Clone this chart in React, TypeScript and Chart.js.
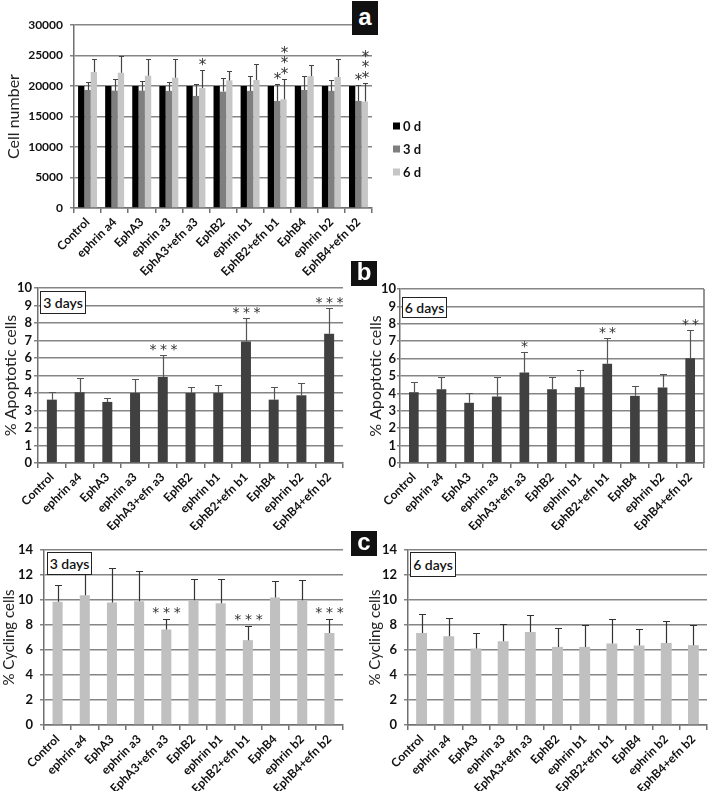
import React, { useEffect, useRef } from "react";
import { Chart, registerables } from "chart.js";
Chart.register(...registerables);

const FONT = "Lato, 'Open Sans', 'DejaVu Sans', sans-serif";
const STAR_FONT = "'DejaVu Sans', sans-serif";
const GRID = "#858585";
const AXIS = "#707070";

const categories = [
  "Control", "ephrin a4", "EphA3", "ephrin a3", "EphA3+efn a3", "EphB2",
  "ephrin b1", "EphB2+efn b1", "EphB4", "ephrin b2", "EphB4+efn b2",
];

// Panel a: cell number
const legendLabelsA = ["0 d", "3 d", "6 d"];
const cells0d = [20000, 20000, 20000, 20000, 20000, 20000, 20000, 20000, 20000, 20000, 20000];
const cells3d = [19350, 19240, 19240, 19200, 18370, 19080, 19200, 17550, 19350, 19200, 17550];
const cells3dErrTop = [20600, 21090, 20810, 20700, 20270, 21360, 21690, 20380, 21690, 21030, 20220];
const cells3dStars = ["", "", "", "", "", "", "", "*", "", "", "*"];
const cells6d = [22280, 22170, 21690, 21360, 19670, 20920, 20980, 17830, 21580, 21470, 17450];
const cells6dErrTop = [24350, 24950, 24470, 24470, 22550, 22390, 23530, 21200, 23420, 24470, 20490];
const cells6dStars = ["", "", "", "", "*", "", "", "***", "", "", "***"];

// Panel b: % apoptotic cells
const apoptotic3d = [3.62, 4.04, 3.49, 4.0, 4.91, 4.0, 4.0, 6.95, 3.62, 3.87, 7.39];
const apoptotic3dErrTop = [4.04, 4.86, 3.71, 4.8, 6.15, 4.34, 4.48, 8.29, 4.34, 4.57, 8.86];
const apoptotic3dStars = ["", "", "", "", "***", "", "", "***", "", "", "***"];
const apoptotic6d = [4.07, 4.24, 3.46, 3.82, 5.2, 4.24, 4.36, 5.7, 3.86, 4.34, 6.02];
const apoptotic6dErrTop = [4.65, 4.93, 4.05, 4.97, 6.37, 4.93, 5.32, 7.17, 4.44, 5.1, 7.65];
const apoptotic6dStars = ["", "", "", "", "*", "", "", "**", "", "", "**"];

// Panel c: % cycling cells
const cycling3d = [9.86, 10.39, 9.8, 9.91, 7.64, 9.99, 9.75, 6.79, 10.2, 9.99, 7.37];
const cycling3dErrTop = [11.19, 12.3, 12.53, 12.34, 8.5, 11.7, 11.7, 7.93, 11.54, 11.57, 8.47];
const cycling3dStars = ["", "", "", "", "***", "", "", "***", "", "", "***"];
const cycling6d = [7.37, 7.1, 6.12, 6.7, 7.45, 6.25, 6.25, 6.52, 6.36, 6.57, 6.39];
const cycling6dErrTop = [8.87, 8.58, 7.37, 8.12, 8.79, 7.8, 7.96, 8.5, 7.69, 8.34, 7.96];

type Series = { label: string; data: number[]; color: string; errTop?: number[]; stars?: string[] };
type Spec = {
  left: number; top: number; w: number; h: number;
  area: { left: number; top: number; right: number; bottom: number };
  series: Series[];
  yMax: number; yStep: number;
  yTitle: string; yTitleSize: number; yTitlePad: number;
  yTickSize: number; yTickLen: number; yTickPad: number;
  catPct: number; barPct: number;
  errColor: string; capHalf: number;
  starMode: "h" | "v"; starSize: number; starGap: number; starSpacing: number;
  rightBorder?: boolean;
  legend?: { x: number; ys: number[] };
};

function overlayPlugin(spec: Spec) {
  return {
    id: "overlay",
    afterDatasetsDraw(chart: any) {
      const ctx = chart.ctx as CanvasRenderingContext2D;
      const ys = chart.scales.y;
      ctx.save();
      spec.series.forEach((s, i) => {
        if (!s.errTop) return;
        const meta = chart.getDatasetMeta(i);
        meta.data.forEach((el: any, j: number) => {
          const x = Math.round(el.x) + 0.5;
          const y0 = el.y;
          const y1 = Math.round(ys.getPixelForValue(s.errTop![j])) + 0.5;
          ctx.strokeStyle = spec.errColor;
          ctx.lineWidth = 1.2;
          ctx.beginPath();
          ctx.moveTo(x, y0);
          ctx.lineTo(x, y1);
          ctx.moveTo(x - spec.capHalf, y1);
          ctx.lineTo(x + spec.capHalf, y1);
          ctx.stroke();
          const st = s.stars ? s.stars[j] : "";
          if (st) {
            ctx.font = `${spec.starSize}px ${STAR_FONT}`;
            ctx.fillStyle = "#333";
            ctx.textAlign = "center";
            ctx.textBaseline = "alphabetic";
            const m = ctx.measureText("*");
            const off = (m.actualBoundingBoxAscent - m.actualBoundingBoxDescent) / 2;
            const n = st.length;
            for (let k = 0; k < n; k++) {
              let cx = x, cy = y1 - spec.starGap;
              if (spec.starMode === "h") cx = x + (k - (n - 1) / 2) * spec.starSpacing;
              else cy = y1 - spec.starGap - k * spec.starSpacing;
              ctx.fillText("*", cx, cy + off);
            }
          }
        });
      });
      if (spec.rightBorder) {
        const a = chart.chartArea;
        ctx.strokeStyle = AXIS;
        ctx.lineWidth = 1.5;
        ctx.beginPath();
        ctx.moveTo(a.right, a.top);
        ctx.lineTo(a.right, a.bottom);
        ctx.stroke();
      }
      if (spec.legend) {
        ctx.font = `bold 13px ${FONT}`;
        ctx.textAlign = "left";
        ctx.textBaseline = "middle";
        spec.series.forEach((s, i) => {
          const yy = spec.legend!.ys[i];
          ctx.fillStyle = s.color;
          ctx.fillRect(spec.legend!.x, yy - 3.5, 7, 7);
          ctx.fillStyle = "#111";
          ctx.fillText(s.label, spec.legend!.x + 10, yy + 0.5);
        });
      }
      ctx.restore();
    },
  };
}

function buildConfig(spec: Spec): any {
  return {
    type: "bar",
    data: {
      labels: categories,
      datasets: spec.series.map((s) => ({
        label: s.label,
        data: s.data,
        backgroundColor: s.color,
        borderWidth: 0,
        categoryPercentage: spec.catPct,
        barPercentage: spec.barPct,
      })),
    },
    options: {
      responsive: false,
      animation: false,
      devicePixelRatio: 1,
      layout: { padding: { top: spec.area.top, right: spec.w - spec.area.right, left: 0, bottom: 0 } },
      plugins: { legend: { display: false }, tooltip: { enabled: false } },
      scales: {
        x: {
          offset: true,
          grid: { display: true, drawOnChartArea: false, drawTicks: true, tickLength: 5, color: AXIS, lineWidth: 1.5, offset: true },
          border: { display: true, color: AXIS, width: 1.5 },
          ticks: { autoSkip: false, maxRotation: 45, minRotation: 45, color: "#111", padding: 2, font: { family: FONT, size: 12, weight: "bold" } },
          afterFit: (s: any) => { s.height = spec.h - spec.area.bottom; },
        },
        y: {
          min: 0,
          max: spec.yMax,
          ticks: {
            stepSize: spec.yStep,
            autoSkip: false,
            color: "#111",
            padding: spec.yTickPad,
            font: { family: FONT, size: spec.yTickSize, weight: "bold" },
            callback: (v: any) => String(v),
          },
          grid: { color: GRID, lineWidth: 1.5, tickLength: spec.yTickLen },
          border: { display: true, color: AXIS, width: 1.5 },
          title: {
            display: true,
            text: spec.yTitle,
            color: "#222",
            font: { family: FONT, size: spec.yTitleSize },
            padding: { top: spec.yTitlePad, bottom: 0 },
          },
          afterFit: (s: any) => { s.width = spec.area.left; },
        },
      },
    },
    plugins: [overlayPlugin(spec)],
  };
}

const specA: Spec = {
  left: 0, top: 0, w: 480, h: 282,
  area: { left: 74, top: 25, right: 372, bottom: 208 },
  series: [
    { label: legendLabelsA[0], data: cells0d, color: "#000000" },
    { label: legendLabelsA[1], data: cells3d, color: "#7f7f7f", errTop: cells3dErrTop, stars: cells3dStars },
    { label: legendLabelsA[2], data: cells6d, color: "#c6c6c6", errTop: cells6dErrTop, stars: cells6dStars },
  ],
  yMax: 30000, yStep: 5000,
  yTitle: "Cell number", yTitleSize: 16, yTitlePad: 4,
  yTickSize: 12, yTickLen: 4, yTickPad: 7,
  catPct: 0.7, barPct: 1,
  errColor: "#444", capHalf: 2.5,
  starMode: "v", starSize: 15, starGap: 9, starSpacing: 10.2,
  legend: { x: 393, ys: [126, 149, 172] },
};

const specB3: Spec = {
  left: 0, top: 275, w: 352, h: 255,
  area: { left: 38, top: 13, right: 343, bottom: 188 },
  series: [{ label: "3 days", data: apoptotic3d, color: "#404040", errTop: apoptotic3dErrTop, stars: apoptotic3dStars }],
  yMax: 10, yStep: 1,
  yTitle: "% Apoptotic cells", yTitleSize: 16, yTitlePad: 1,
  yTickSize: 13, yTickLen: 4, yTickPad: 2,
  catPct: 1, barPct: 0.36,
  errColor: "#555", capHalf: 3.5,
  starMode: "h", starSize: 14, starGap: 8, starSpacing: 10.5,
};

const specB6: Spec = {
  left: 362, top: 275, w: 347, h: 255,
  area: { left: 38, top: 14, right: 342, bottom: 188 },
  series: [{ label: "6 days", data: apoptotic6d, color: "#404040", errTop: apoptotic6dErrTop, stars: apoptotic6dStars }],
  yMax: 10, yStep: 1,
  yTitle: "% Apoptotic cells", yTitleSize: 16, yTitlePad: 4,
  yTickSize: 13, yTickLen: 3, yTickPad: 1,
  catPct: 1, barPct: 0.35,
  errColor: "#555", capHalf: 3.5,
  starMode: "h", starSize: 14, starGap: 8, starSpacing: 10,
  rightBorder: true,
};

const specC3: Spec = {
  left: 0, top: 530, w: 352, h: 261,
  area: { left: 44, top: 20, right: 343, bottom: 195 },
  series: [{ label: "3 days", data: cycling3d, color: "#c0c0c0", errTop: cycling3dErrTop, stars: cycling3dStars }],
  yMax: 14, yStep: 2,
  yTitle: "% Cycling cells", yTitleSize: 15, yTitlePad: 0,
  yTickSize: 13, yTickLen: 4, yTickPad: 7,
  catPct: 1, barPct: 0.37,
  errColor: "#333", capHalf: 3.5,
  starMode: "h", starSize: 14, starGap: 9, starSpacing: 10.8,
};

const specC6: Spec = {
  left: 362, top: 530, w: 347, h: 261,
  area: { left: 46, top: 20, right: 345, bottom: 195 },
  series: [{ label: "6 days", data: cycling6d, color: "#c0c0c0", errTop: cycling6dErrTop }],
  yMax: 14, yStep: 2,
  yTitle: "% Cycling cells", yTitleSize: 15, yTitlePad: 4,
  yTickSize: 13, yTickLen: 4, yTickPad: 7,
  catPct: 1, barPct: 0.4,
  errColor: "#333", capHalf: 3.5,
  starMode: "h", starSize: 14, starGap: 9, starSpacing: 10.8,
};

function ChartPanel({ spec }: { spec: Spec }) {
  const ref = useRef<HTMLCanvasElement>(null);
  useEffect(() => {
    const chart = new Chart(ref.current as HTMLCanvasElement, buildConfig(spec));
    return () => chart.destroy();
  }, [spec]);
  return (
    <canvas
      ref={ref}
      width={spec.w}
      height={spec.h}
      style={{ position: "absolute", left: spec.left, top: spec.top, width: spec.w, height: spec.h }}
    />
  );
}

function LetterBox({ letter, left, top, w, h }: { letter: string; left: number; top: number; w: number; h: number }) {
  return (
    <div
      style={{
        position: "absolute", left, top, width: w, height: h, background: "#111", color: "#fff",
        display: "flex", alignItems: "center", justifyContent: "center",
        fontFamily: "'Liberation Sans', Arial, sans-serif", fontWeight: "bold", fontSize: 24, lineHeight: 1,
      }}
    >
      <span style={{ marginTop: -3 }}>{letter}</span>
    </div>
  );
}

function DaysBox({ text, left, top, w, h }: { text: string; left: number; top: number; w: number; h: number }) {
  return (
    <div
      style={{
        position: "absolute", left, top, width: w, height: h, boxSizing: "border-box",
        background: "#fff", border: "1.5px solid #222", color: "#111",
        display: "flex", alignItems: "center", justifyContent: "center",
        fontFamily: FONT, fontWeight: 600, fontSize: 14, lineHeight: 1,
      }}
    >
      {text}
    </div>
  );
}

export default function App() {
  return (
    <div style={{ position: "absolute", left: 0, top: 0, width: 709, height: 791, background: "#fff", overflow: "hidden" }}>
      <ChartPanel spec={specA} />
      <ChartPanel spec={specB3} />
      <ChartPanel spec={specB6} />
      <ChartPanel spec={specC3} />
      <ChartPanel spec={specC6} />
      <LetterBox letter="a" left={352} top={1} w={26} h={34} />
      <LetterBox letter="b" left={351} top={261} w={26} h={25} />
      <LetterBox letter="c" left={351} top={531} w={26} h={25} />
      <DaysBox text="3 days" left={40} top={291} w={46} h={23} />
      <DaysBox text="6 days" left={402} top={297} w={45} h={21} />
      <DaysBox text="3 days" left={47} top={552} w={45} h={23} />
      <DaysBox text="6 days" left={410} top={552} w={46} h={25} />
    </div>
  );
}
